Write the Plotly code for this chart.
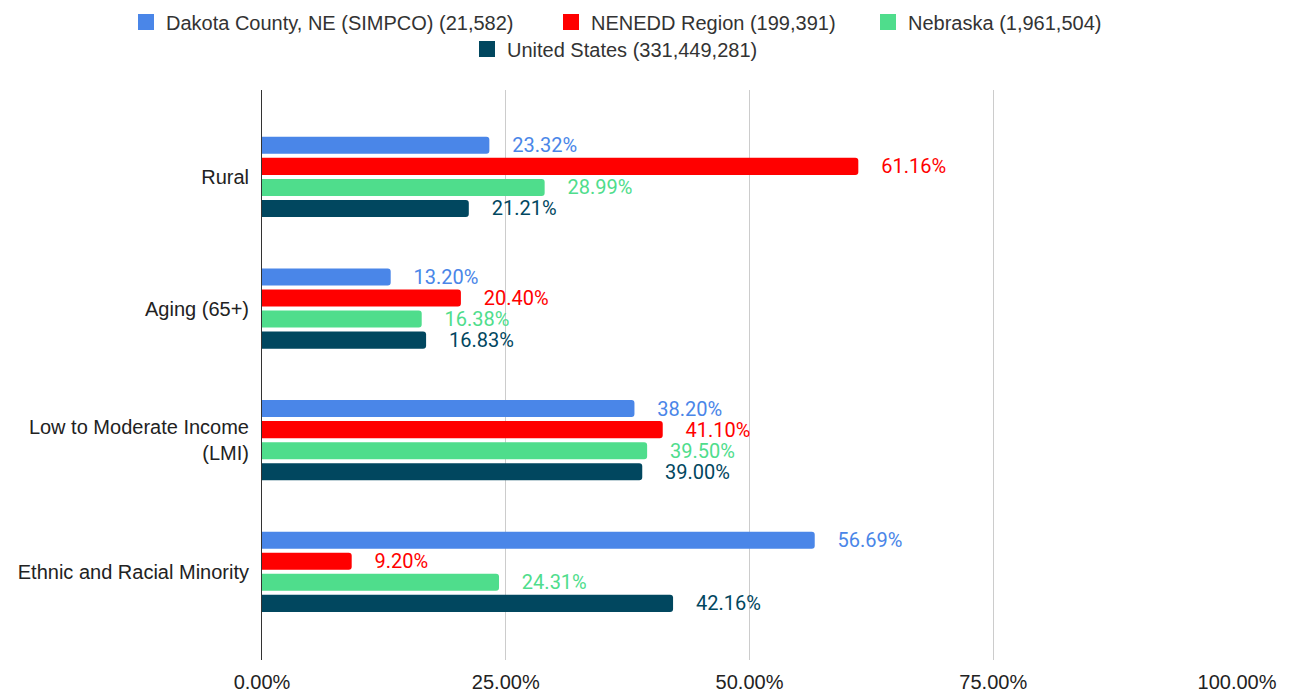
import plotly.graph_objects as go

categories = ["Rural", "Aging (65+)", "Low to Moderate Income<br>(LMI)", "Ethnic and Racial Minority"]
series_names = ["Dakota County, NE (SIMPCO) (21,582)", "NENEDD Region (199,391)",
                "Nebraska (1,961,504)", "United States (331,449,281)"]
dakota = [0.2332, 0.1320, 0.3820, 0.5669]
nenedd = [0.6116, 0.2040, 0.4110, 0.0920]
nebraska = [0.2899, 0.1638, 0.3950, 0.2431]
us = [0.2121, 0.1683, 0.3900, 0.4216]
colors = ["#4A86E8", "#FF0000", "#4FDD8C", "#01475F"]
xticks = [0, 0.25, 0.5, 0.75, 1.0]

# page body has an 8px margin; figure sized to fit the 1290x691 window
W, H = 1282, 683
legend_ids = ["legend", "legend2", "legend3", "legend4"]
legend_pos = [(118, 14), (543, 14), (860, 14), (459, 41)]  # container px (left, vertical middle)

fig = go.Figure()
pad = "\u00a0" * 4
for name, vals, col, lid in zip(series_names, [dakota, nenedd, nebraska, us], colors, legend_ids):
    fig.add_trace(go.Bar(
        y=categories, x=vals, name=name, orientation="h",
        marker=dict(color=col, line=dict(width=0)),
        text=[pad + f"{v*100:.2f}%" for v in vals],
        textposition="outside", cliponaxis=False, constraintext="none",
        textfont=dict(family="Roboto", size=20, color=col),
        hoverinfo="skip", showlegend=False,
    ))
    fig.add_trace(go.Scatter(
        x=[None], y=[None], mode="markers", name=name, legend=lid,
        marker=dict(symbol="square", size=16, color=col), hoverinfo="skip",
    ))

legend_layout = {}
for lid, (lx, ly) in zip(legend_ids, legend_pos):
    legend_layout[lid] = dict(
        orientation="h", xref="container", yref="container",
        x=lx / W, y=1 - ly / H, xanchor="left", yanchor="middle",
        font=dict(family="Arial, Liberation Sans", size=20, color="#333333"),
        bgcolor="rgba(0,0,0,0)", borderwidth=0, itemsizing="trace",
    )

fig.update_layout(
    width=W, height=H,
    margin=dict(l=254, r=53, t=82, b=31, autoexpand=False),
    paper_bgcolor="white", plot_bgcolor="white",
    barmode="group", bargap=0.36, bargroupgap=0.19, barcornerradius=3,
    font=dict(family="Arial, Liberation Sans", size=20, color="#222222"),
    showlegend=True,
    **legend_layout,
)
fig.update_xaxes(range=[0, 1], tickvals=xticks, tickformat=".2%", showgrid=True,
                 gridcolor="#CCCCCC", gridwidth=1, zeroline=False, showline=False,
                 tickfont=dict(size=20, color="#222222"), ticklabelstandoff=8)
fig.update_yaxes(autorange=False, range=[3.67, -0.66], showline=True, linecolor="#333333",
                 linewidth=1, tickfont=dict(size=20, color="#222222"), ticks="",
                 ticklabelstandoff=8, showgrid=False)

fig.write_html("out.html")
